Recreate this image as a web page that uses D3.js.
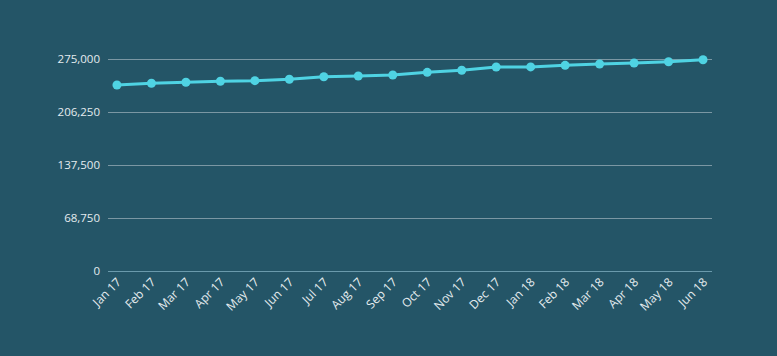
<!DOCTYPE html>
<html><head><meta charset="utf-8">
<script src="https://cdn.jsdelivr.net/npm/d3@7"></script>
<style>
html,body{margin:0;padding:0;background:#245567;}
svg{display:block;}
</style></head>
<body><svg id="c" width="777" height="356"></svg>
<script>
const categories = ["Jan 17","Feb 17","Mar 17","Apr 17","May 17","Jun 17","Jul 17","Aug 17","Sep 17","Oct 17","Nov 17","Dec 17","Jan 18","Feb 18","Mar 18","Apr 18","May 18","Jun 18"];
const values = [241300,243500,244800,246100,246900,248700,252000,253000,254200,257700,260400,264600,264700,266800,268500,269800,271500,274100];
const yTicks = [0,68750,137500,206250,275000];

const svg = d3.select("#c");
const W=777,H=356;
const m={left:108,right:65,top:59,bottom:85};
const x = d3.scalePoint().domain(categories).range([m.left,W-m.right]).padding(0.26);
const y = d3.scaleLinear().domain([0,275000]).range([H-m.bottom,m.top]);
const font = "'Open Sans', sans-serif";

const g = svg.append("g");
g.selectAll("line.grid").data(yTicks).enter().append("line")
 .attr("x1",m.left).attr("x2",W-m.right)
 .attr("y1",d=>y(d)+0.5).attr("y2",d=>y(d)+0.5)
 .attr("stroke",d=>d===0?"#6a9aac":"#7b97a3").attr("stroke-width",1);
const fmt = d3.format(",");
g.selectAll("text.yl").data(yTicks).enter().append("text")
 .attr("x",m.left-8).attr("y",d=>y(d)).attr("dy","0.35em")
 .attr("text-anchor","end").attr("fill","#e4ecef")
 .attr("font-family",font).attr("font-size",11.5).text(d=>fmt(d));
g.selectAll("text.xl").data(categories).enter().append("text")
 .attr("transform",d=>`translate(${x(d)+5},${H-m.bottom+12}) rotate(-45)`)
 .attr("text-anchor","end").attr("fill","#e4ecef")
 .attr("font-family",font).attr("font-size",12).text(d=>d);
const data = categories.map((c,i)=>({c,v:values[i]}));
g.append("path").datum(data)
 .attr("d",d3.line().x(d=>x(d.c)).y(d=>y(d.v)))
 .attr("fill","none").attr("stroke","#4fd3e3").attr("stroke-width",3);
g.selectAll("circle").data(data).enter().append("circle")
 .attr("cx",d=>x(d.c)).attr("cy",d=>y(d.v)).attr("r",4.5)
 .attr("fill","#4fd3e3");
</script></body></html>
